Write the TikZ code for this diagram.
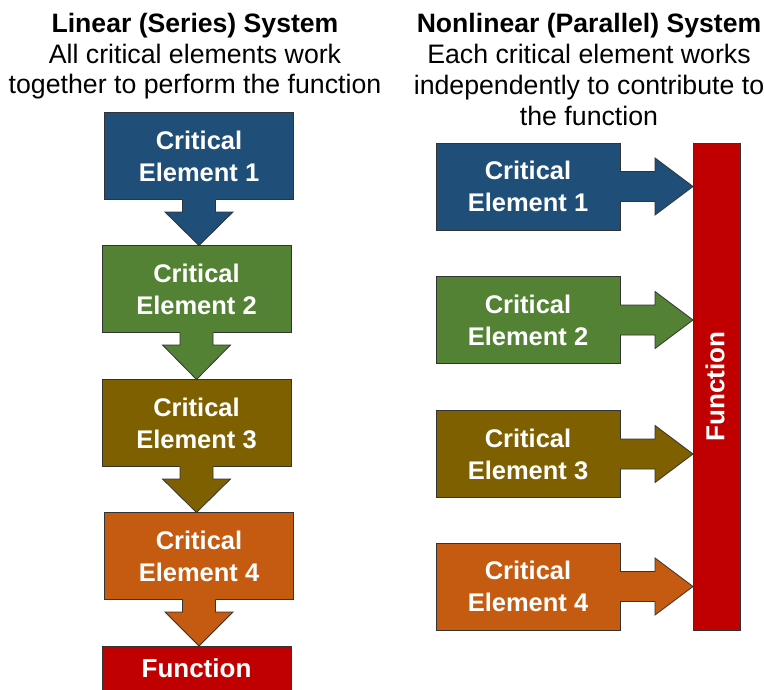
\documentclass[tikz,border=0pt]{standalone}
\usepackage{fontspec}
\setmainfont{Liberation Sans}
\usetikzlibrary{calc}
\definecolor{cblue}{HTML}{1F4E79}
\definecolor{cgreen}{HTML}{548235}
\definecolor{colive}{HTML}{7F6000}
\definecolor{corange}{HTML}{C55A11}
\definecolor{cred}{HTML}{C00000}
\definecolor{edgec}{HTML}{333333}
\newcommand\downblk[3]{%
  \fill[#3] ($(#1.south)+(-16.5,-1.2)$) -- ($(#1.south)+(-16.5,12.5)$) -- ($(#1.south)+(-34,12.5)$)
    -- (#1.south |- #2.north) -- ($(#1.south)+(34,12.5)$) -- ($(#1.south)+(16.5,12.5)$)
    -- ($(#1.south)+(16.5,-1.2)$) -- cycle;
  \draw[blkline] ($(#1.south)+(-16.5,0)$) -- ($(#1.south)+(-16.5,12.5)$) -- ($(#1.south)+(-34,12.5)$)
    -- (#1.south |- #2.north) -- ($(#1.south)+(34,12.5)$) -- ($(#1.south)+(16.5,12.5)$)
    -- ($(#1.south)+(16.5,0)$);
}
\newcommand\rightblk[3]{%
  \fill[#3] ($(#1.east)+(-1.2,-15)$) -- ($(#1.east)+(35,-15)$) -- ($(#1.east)+(35,-28.5)$)
    -- (#2.west |- #1.east) -- ($(#1.east)+(35,28.5)$) -- ($(#1.east)+(35,15)$)
    -- ($(#1.east)+(-1.2,15)$) -- cycle;
  \draw[blkline] ($(#1.east)+(0,-15)$) -- ($(#1.east)+(35,-15)$) -- ($(#1.east)+(35,-28.5)$)
    -- (#2.west |- #1.east) -- ($(#1.east)+(35,28.5)$) -- ($(#1.east)+(35,15)$)
    -- ($(#1.east)+(0,15)$);
}
\begin{document}
\begin{tikzpicture}[x=1bp,y=-1bp,
  box/.style={draw=edgec, line width=0.8bp, minimum width=189bp, minimum height=87bp,
    inner sep=0pt, outer sep=0pt, align=center, text=white,
    font=\fontsize{25.5bp}{32bp}\selectfont\bfseries},
  rbox/.style={box, minimum width=184bp},
  blkline/.style={draw=edgec, line width=0.8bp, line join=miter},
  ttl/.style={anchor=base, inner sep=0pt, font=\fontsize{26.6bp}{31bp}\selectfont\bfseries},
  sub/.style={anchor=base, inner sep=0pt, font=\fontsize{26.7bp}{31bp}\selectfont}
]
\clip (0,0) rectangle (764,690);
\fill[white] (0,0) rectangle (764,690);

% headers
\node[ttl] (lt) at (195,33) {Linear (Series) System};
\node[sub] (ls1) at (195,63.5) {All critical elements work};
\node[sub] (ls2) at (195,94) {together to perform the function};
\node[ttl] (rt) at (589,33) {Nonlinear (Parallel) System};
\node[sub] (rs1) at (589,64) {Each critical element works};
\node[sub] (rs2) at (589,95) {independently to contribute to};
\node[sub] (rs3) at (589,125.5) {the function};

% left column
\node[box, fill=cblue] (L1) at (199,156) {Critical\\Element 1};
\node[box, fill=cgreen] (L2) at (196.5,289) {Critical\\Element 2};
\node[box, fill=colive] (L3) at (196.5,423) {Critical\\Element 3};
\node[box, fill=corange] (L4) at (199,556) {Critical\\Element 4};
\node[box, fill=cred, minimum height=54bp] (LF) at (196.5,673) {};
\node[text=white, inner sep=0pt, anchor=base, font=\fontsize{26bp}{32bp}\selectfont\bfseries] (LFt) at (196.5,677) {Function};

\downblk{L1}{L2}{cblue}
\downblk{L2}{L3}{cgreen}
\downblk{L3}{L4}{colive}
\downblk{L4}{LF}{corange}

% right column
\node[box, fill=cred, minimum width=47bp, minimum height=487bp] (RF) at (716.5,386.5) {};
\node[rotate=90, text=white, inner sep=0pt, font=\fontsize{26bp}{32bp}\selectfont\bfseries] (RFt) at (715,386.5) {Function};
\node[rbox, fill=cblue] (R1) at (528,186.5) {Critical\\Element 1};
\node[rbox, fill=cgreen] (R2) at (528,320) {Critical\\Element 2};
\node[rbox, fill=colive] (R3) at (528,454) {Critical\\Element 3};
\node[rbox, fill=corange] (R4) at (528,586.5) {Critical\\Element 4};

\rightblk{R1}{RF}{cblue}
\rightblk{R2}{RF}{cgreen}
\rightblk{R3}{RF}{colive}
\rightblk{R4}{RF}{corange}
\end{tikzpicture}
\end{document}
